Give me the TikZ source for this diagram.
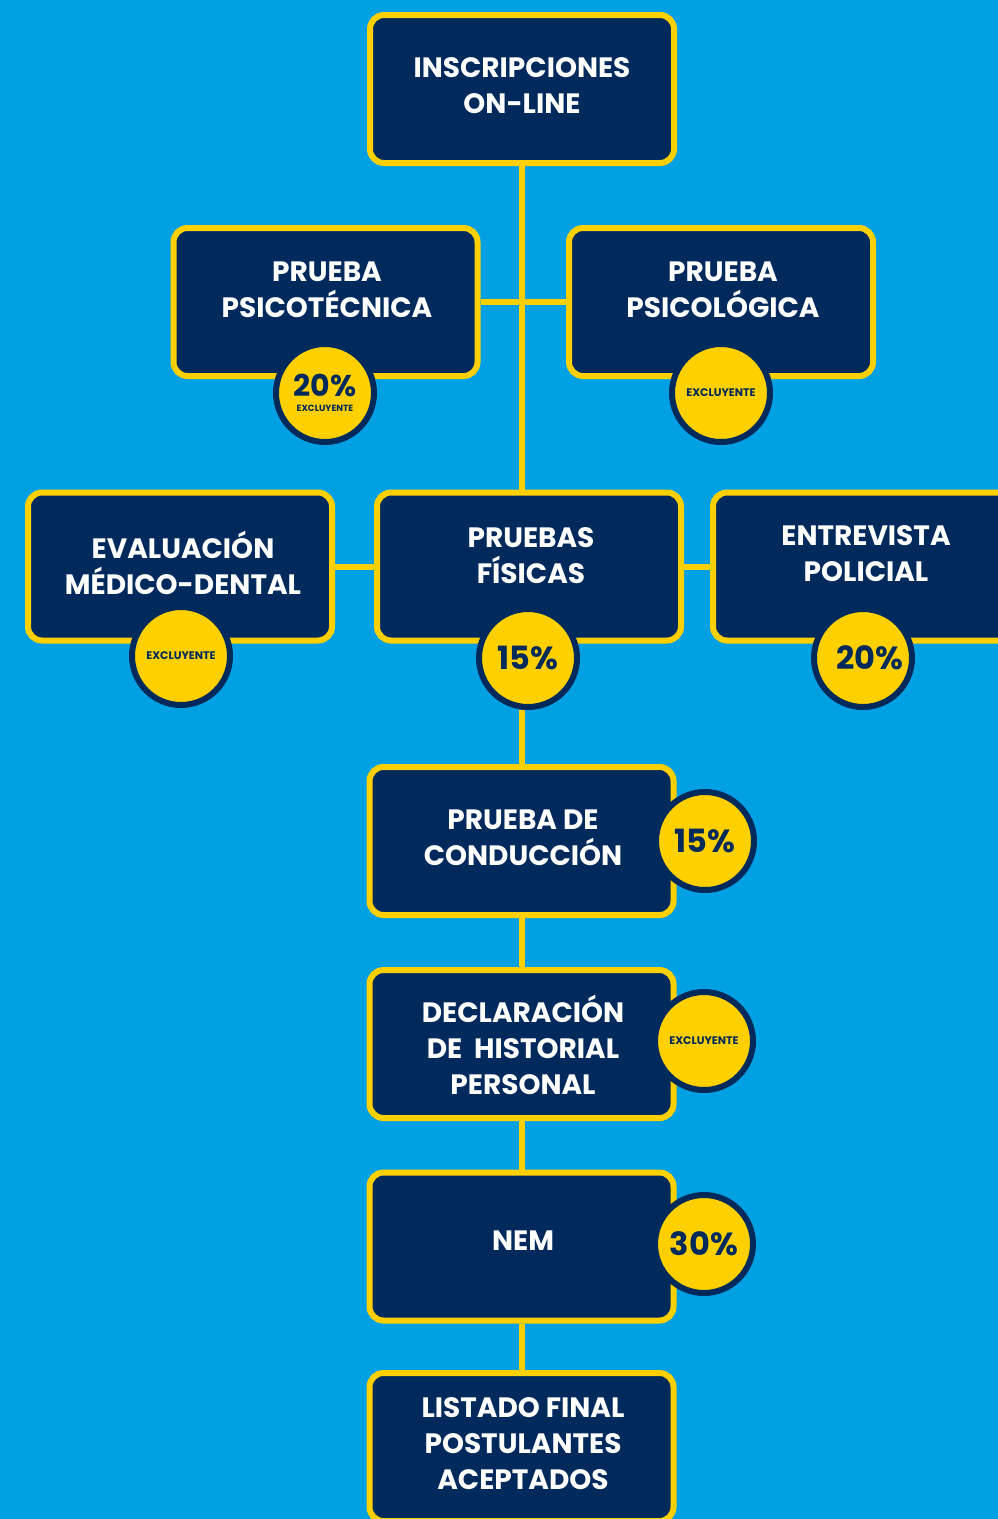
\documentclass[tikz,border=0pt]{standalone}
\usepackage{fontspec}
\setmainfont{Poppins}
\usepackage{tikz}
\usetikzlibrary{positioning, calc}
\definecolor{sky}{RGB}{0,160,227}
\definecolor{navy}{RGB}{0,41,92}
\definecolor{gold}{RGB}{255,208,0}
\pgfdeclarelayer{back}
\pgfsetlayers{back,main}
\tikzset{etapa/.style={draw=gold, fill=navy, line width=6pt, rounded corners=14pt, minimum width=304pt, minimum height=148pt, inner sep=0pt},
    titulo/.style={text=white, align=center, font=\bfseries\fontsize{28}{36}\selectfont},
    sello/.style={circle, fill=gold, draw=navy, line width=6pt, minimum size=98pt, inner sep=0pt, text=navy, align=center},
    pct/.style={font=\bfseries\fontsize{32}{32}\selectfont},
    excl/.style={font=\bfseries\fontsize{11}{11}\selectfont},
    enlace/.style={draw=gold, line width=6pt}}

\begin{document}
\begin{tikzpicture}[x=1pt, y=-1pt]
                 \useasboundingbox (0,0) rectangle (998,1519);
                 \clip (0,0) rectangle (998,1519);
                 % etapas
                 \node[etapa] (inscr) at (522,89) {};
                 \node[titulo] (inscr-t) at (522,86) {INSCRIPCIONES\\ON-LINE};
                 \node[etapa] (psicotec) at (325.5,302) {};
                 \node[titulo] (psicotec-t) at (327,290) {PRUEBA\\PSICOTÉCNICA};
                 \node[etapa] (psicolog) at (721,302) {};
                 \node[titulo] (psicolog-t) at (723,290) {PRUEBA\\PSICOLÓGICA};
                 \node[etapa] (medico) at (180,566.5) {};
                 \node[titulo] (medico-t) at (183,563) {EVALUACIÓN\\MÉDICO-DENTAL};
                 \node[etapa] (fisicas) at (529,566.5) {};
                 \node[titulo] (fisicas-t) at (531,556) {PRUEBAS\\FÍSICAS};
                 \node[etapa] (entrevista) at (865,566.5) {};
                 \node[titulo] (entrevista-t) at (866,554) {ENTREVISTA\\POLICIAL};
                 \node[etapa] (conduc) at (521.5,841) {};
                 \node[titulo] (conduc-t) at (523,838) {PRUEBA DE\\CONDUCCIÓN};
                 \node[etapa] (declar) at (521.5,1044) {};
                 \node[titulo] (declar-t) at (523,1045) {DECLARACIÓN\\DE\ \ HISTORIAL\\PERSONAL};
                 \node[etapa] (nem) at (521.5,1246.5) {};
                 \node[titulo] (nem-t) at (523,1241) {NEM};
                 \node[etapa] (listado) at (521.5,1447) {};
                 \node[titulo] (listado-t) at (523,1444) {LISTADO FINAL\\POSTULANTES\\ACEPTADOS};

                 % sellos
                 \node[sello] (s-psicotec) at (325,393) {{\bfseries\fontsize{30}{30}\selectfont 20\%}\\[3pt]{\bfseries\fontsize{9}{9}\selectfont EXCLUYENTE}};
                 \node[sello, excl] (s-psicolog) at (721,393) {EXCLUYENTE};
                 \node[sello, excl] (s-medico) at (181,656) {EXCLUYENTE};
                 \node[sello, pct] (s-fisicas) at (528,658) {15\%};
                 \node[sello, pct] (s-entrevista) at (863,658) {\hspace*{14pt}20\%};
                 \node[sello, pct] (s-conduc) at (705,841) {15\%};
                 \node[sello, excl] (s-declar) at (704,1041) {EXCLUYENTE};
                 \node[sello, pct] (s-nem) at (704,1244) {30\%};

                 \begin{pgfonlayer}{back}
                 \fill[sky] (0,0) rectangle (998,1519);
                 \draw[enlace] (inscr.south) -- (inscr.south |- fisicas.north);
                 \draw[enlace] (psicotec.east) -- (psicolog.west);
                 \draw[enlace] (medico.east) -- (fisicas.west);
                 \draw[enlace] (fisicas.east) -- (entrevista.west);
                 \draw[enlace] (conduc.north) -- (conduc.north |- s-fisicas.south);
                 \draw[enlace] (conduc.south) -- (declar.north);
                 \draw[enlace] (declar.south) -- (nem.north);
                 \draw[enlace] (nem.south) -- (listado.north);
                 \end{pgfonlayer}
\end{tikzpicture}
\end{document}
